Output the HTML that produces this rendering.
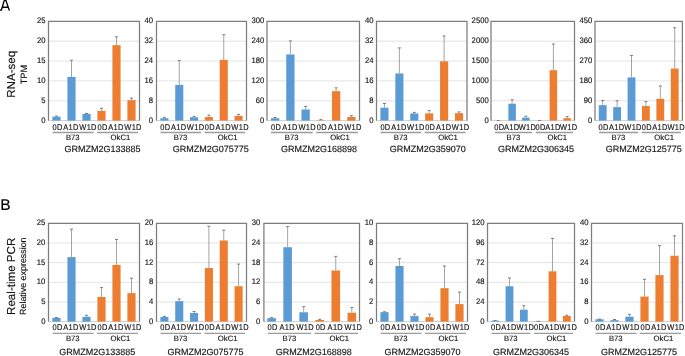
<!DOCTYPE html>
<html><head><meta charset="utf-8"><style>
html,body{margin:0;padding:0;background:#fff;}
body{width:685px;height:356px;overflow:hidden;}
svg{display:block;will-change:transform;}
text{font-family:"Liberation Sans", sans-serif;fill:#151515;stroke:#151515;stroke-width:0.15px;text-rendering:geometricPrecision;}
.t{font-size:8px;}
.x{font-size:8.2px;letter-spacing:0.35px;}
.g{font-size:7.7px;}
.n{font-size:9px;}
.L{font-size:15.6px;fill:#000;text-rendering:geometricPrecision;}
.T1{font-size:11.6px;fill:#111;}
.T2{font-size:9.2px;fill:#111;}
.T3{font-size:8.9px;fill:#111;}
</style></head><body>
<svg width="685" height="356" viewBox="0 0 685 356">
<line x1="48.5" y1="100.75" x2="139.5" y2="100.75" stroke="#e3e3e3" stroke-width="1"/>
<line x1="48.5" y1="80.9" x2="139.5" y2="80.9" stroke="#e3e3e3" stroke-width="1"/>
<line x1="48.5" y1="61.05" x2="139.5" y2="61.05" stroke="#e3e3e3" stroke-width="1"/>
<line x1="48.5" y1="41.2" x2="139.5" y2="41.2" stroke="#e3e3e3" stroke-width="1"/>
<line x1="48" y1="120.6" x2="140" y2="120.6" stroke="#d0d0d0" stroke-width="1"/>
<rect x="52.41" y="116.63" width="8.18" height="3.97" fill="#5B9BD5"/>
<line x1="56.5" y1="116.03" x2="56.5" y2="116.63" stroke="#9a9a9a" stroke-width="0.9"/>
<line x1="55" y1="116.03" x2="58" y2="116.03" stroke="#707070" stroke-width="0.9"/>
<rect x="67.41" y="76.93" width="8.18" height="43.67" fill="#5B9BD5"/>
<line x1="71.5" y1="60.26" x2="71.5" y2="76.93" stroke="#9a9a9a" stroke-width="0.9"/>
<line x1="70" y1="60.26" x2="73" y2="60.26" stroke="#707070" stroke-width="0.9"/>
<rect x="82.41" y="113.85" width="8.18" height="6.75" fill="#5B9BD5"/>
<line x1="86.5" y1="113.45" x2="86.5" y2="113.85" stroke="#9a9a9a" stroke-width="0.9"/>
<line x1="85" y1="113.45" x2="88" y2="113.45" stroke="#707070" stroke-width="0.9"/>
<rect x="97.41" y="110.87" width="8.18" height="9.73" fill="#ED7D31"/>
<line x1="101.5" y1="108.29" x2="101.5" y2="110.87" stroke="#9a9a9a" stroke-width="0.9"/>
<line x1="100" y1="108.29" x2="103" y2="108.29" stroke="#707070" stroke-width="0.9"/>
<rect x="112.41" y="45.17" width="8.18" height="75.43" fill="#ED7D31"/>
<line x1="116.5" y1="36.83" x2="116.5" y2="45.17" stroke="#9a9a9a" stroke-width="0.9"/>
<line x1="115" y1="36.83" x2="118" y2="36.83" stroke="#707070" stroke-width="0.9"/>
<rect x="127.41" y="100.15" width="8.18" height="20.45" fill="#ED7D31"/>
<line x1="131.5" y1="98.17" x2="131.5" y2="100.15" stroke="#9a9a9a" stroke-width="0.9"/>
<line x1="130" y1="98.17" x2="133" y2="98.17" stroke="#707070" stroke-width="0.9"/>
<path d="M48.5 120.6V21.35H139.5V120.6" fill="none" stroke="#7d7d7d" stroke-width="1.25"/>
<text transform="translate(45.5,122.5) scale(0.96,1)" text-anchor="end" class="t">0</text>
<text transform="translate(45.5,102.65) scale(0.96,1)" text-anchor="end" class="t">5</text>
<text transform="translate(45.5,82.8) scale(0.96,1)" text-anchor="end" class="t">10</text>
<text transform="translate(45.5,62.95) scale(0.96,1)" text-anchor="end" class="t">15</text>
<text transform="translate(45.5,43.1) scale(0.96,1)" text-anchor="end" class="t">20</text>
<text transform="translate(45.5,23.25) scale(0.96,1)" text-anchor="end" class="t">25</text>
<text transform="translate(57.5,129.9) scale(0.91,1)" text-anchor="middle" class="x">0D</text>
<text transform="translate(71.05,129.9) scale(0.91,1)" text-anchor="middle" class="x">A1D</text>
<text transform="translate(88.05,129.9) scale(0.91,1)" text-anchor="middle" class="x">W1D</text>
<text transform="translate(102.5,129.9) scale(0.91,1)" text-anchor="middle" class="x">0D</text>
<text transform="translate(116.05,129.9) scale(0.91,1)" text-anchor="middle" class="x">A1D</text>
<text transform="translate(133.05,129.9) scale(0.91,1)" text-anchor="middle" class="x">W1D</text>
<line x1="52.5" y1="132.5" x2="93.5" y2="132.5" stroke="#9c9c9c" stroke-width="1.3"/>
<line x1="97" y1="132.5" x2="138" y2="132.5" stroke="#9c9c9c" stroke-width="1.3"/>
<text transform="translate(72.8,140)" text-anchor="middle" class="g">B73</text>
<text transform="translate(120.4,140)" text-anchor="middle" class="g">OkC1</text>
<text transform="translate(102.4,152.4)" text-anchor="middle" class="n">GRMZM2G133885</text>
<line x1="156.5" y1="100.75" x2="246.5" y2="100.75" stroke="#e3e3e3" stroke-width="1"/>
<line x1="156.5" y1="80.9" x2="246.5" y2="80.9" stroke="#e3e3e3" stroke-width="1"/>
<line x1="156.5" y1="61.05" x2="246.5" y2="61.05" stroke="#e3e3e3" stroke-width="1"/>
<line x1="156.5" y1="41.2" x2="246.5" y2="41.2" stroke="#e3e3e3" stroke-width="1"/>
<line x1="156" y1="120.6" x2="247" y2="120.6" stroke="#d0d0d0" stroke-width="1"/>
<rect x="160.37" y="118.22" width="8.08" height="2.38" fill="#5B9BD5"/>
<line x1="164.42" y1="117.37" x2="164.42" y2="118.22" stroke="#9a9a9a" stroke-width="0.9"/>
<line x1="162.92" y1="117.37" x2="165.92" y2="117.37" stroke="#707070" stroke-width="0.9"/>
<rect x="175.21" y="84.87" width="8.08" height="35.73" fill="#5B9BD5"/>
<line x1="179.25" y1="60.55" x2="179.25" y2="84.87" stroke="#9a9a9a" stroke-width="0.9"/>
<line x1="177.75" y1="60.55" x2="180.75" y2="60.55" stroke="#707070" stroke-width="0.9"/>
<rect x="190.04" y="117.23" width="8.08" height="3.37" fill="#5B9BD5"/>
<line x1="194.08" y1="116.38" x2="194.08" y2="117.23" stroke="#9a9a9a" stroke-width="0.9"/>
<line x1="192.58" y1="116.38" x2="195.58" y2="116.38" stroke="#707070" stroke-width="0.9"/>
<rect x="204.87" y="117.03" width="8.08" height="3.57" fill="#ED7D31"/>
<line x1="208.92" y1="115.14" x2="208.92" y2="117.03" stroke="#9a9a9a" stroke-width="0.9"/>
<line x1="207.42" y1="115.14" x2="210.42" y2="115.14" stroke="#707070" stroke-width="0.9"/>
<rect x="219.71" y="59.81" width="8.08" height="60.79" fill="#ED7D31"/>
<line x1="223.75" y1="34.75" x2="223.75" y2="59.81" stroke="#9a9a9a" stroke-width="0.9"/>
<line x1="222.25" y1="34.75" x2="225.25" y2="34.75" stroke="#707070" stroke-width="0.9"/>
<rect x="234.54" y="115.89" width="8.08" height="4.71" fill="#ED7D31"/>
<line x1="238.58" y1="114.4" x2="238.58" y2="115.89" stroke="#9a9a9a" stroke-width="0.9"/>
<line x1="237.08" y1="114.4" x2="240.08" y2="114.4" stroke="#707070" stroke-width="0.9"/>
<path d="M156.5 120.6V21.35H246.5V120.6" fill="none" stroke="#7d7d7d" stroke-width="1.25"/>
<text transform="translate(153.1,122.5) scale(0.96,1)" text-anchor="end" class="t">0</text>
<text transform="translate(153.1,102.65) scale(0.96,1)" text-anchor="end" class="t">8</text>
<text transform="translate(153.1,82.8) scale(0.96,1)" text-anchor="end" class="t">16</text>
<text transform="translate(153.1,62.95) scale(0.96,1)" text-anchor="end" class="t">24</text>
<text transform="translate(153.1,43.1) scale(0.96,1)" text-anchor="end" class="t">32</text>
<text transform="translate(153.1,23.25) scale(0.96,1)" text-anchor="end" class="t">40</text>
<text transform="translate(165.42,129.9) scale(0.91,1)" text-anchor="middle" class="x">0D</text>
<text transform="translate(178.8,129.9) scale(0.91,1)" text-anchor="middle" class="x">A1D</text>
<text transform="translate(195.63,129.9) scale(0.91,1)" text-anchor="middle" class="x">W1D</text>
<text transform="translate(209.92,129.9) scale(0.91,1)" text-anchor="middle" class="x">0D</text>
<text transform="translate(223.3,129.9) scale(0.91,1)" text-anchor="middle" class="x">A1D</text>
<text transform="translate(240.13,129.9) scale(0.91,1)" text-anchor="middle" class="x">W1D</text>
<line x1="160.5" y1="132.5" x2="201" y2="132.5" stroke="#9c9c9c" stroke-width="1.3"/>
<line x1="204.5" y1="132.5" x2="245" y2="132.5" stroke="#9c9c9c" stroke-width="1.3"/>
<text transform="translate(180.55,140)" text-anchor="middle" class="g">B73</text>
<text transform="translate(227.65,140)" text-anchor="middle" class="g">OkC1</text>
<text transform="translate(210.8,152.4)" text-anchor="middle" class="n">GRMZM2G075775</text>
<line x1="267" y1="100.75" x2="359.5" y2="100.75" stroke="#e3e3e3" stroke-width="1"/>
<line x1="267" y1="80.9" x2="359.5" y2="80.9" stroke="#e3e3e3" stroke-width="1"/>
<line x1="267" y1="61.05" x2="359.5" y2="61.05" stroke="#e3e3e3" stroke-width="1"/>
<line x1="267" y1="41.2" x2="359.5" y2="41.2" stroke="#e3e3e3" stroke-width="1"/>
<line x1="266.5" y1="120.6" x2="360" y2="120.6" stroke="#d0d0d0" stroke-width="1"/>
<rect x="270.97" y="118.22" width="8.31" height="2.38" fill="#5B9BD5"/>
<line x1="275.12" y1="117.46" x2="275.12" y2="118.22" stroke="#9a9a9a" stroke-width="0.9"/>
<line x1="273.62" y1="117.46" x2="276.62" y2="117.46" stroke="#707070" stroke-width="0.9"/>
<rect x="286.22" y="54.43" width="8.31" height="66.17" fill="#5B9BD5"/>
<line x1="290.38" y1="40.87" x2="290.38" y2="54.43" stroke="#9a9a9a" stroke-width="0.9"/>
<line x1="288.88" y1="40.87" x2="291.88" y2="40.87" stroke="#707070" stroke-width="0.9"/>
<rect x="301.47" y="109.48" width="8.31" height="11.12" fill="#5B9BD5"/>
<line x1="305.62" y1="106.37" x2="305.62" y2="109.48" stroke="#9a9a9a" stroke-width="0.9"/>
<line x1="304.12" y1="106.37" x2="307.12" y2="106.37" stroke="#707070" stroke-width="0.9"/>
<rect x="316.72" y="120.27" width="8.31" height="0.33" fill="#ED7D31"/>
<line x1="320.88" y1="119.61" x2="320.88" y2="120.27" stroke="#9a9a9a" stroke-width="0.9"/>
<line x1="319.38" y1="119.61" x2="322.38" y2="119.61" stroke="#707070" stroke-width="0.9"/>
<rect x="331.97" y="91.16" width="8.31" height="29.44" fill="#ED7D31"/>
<line x1="336.12" y1="87.85" x2="336.12" y2="91.16" stroke="#9a9a9a" stroke-width="0.9"/>
<line x1="334.62" y1="87.85" x2="337.62" y2="87.85" stroke="#707070" stroke-width="0.9"/>
<rect x="347.22" y="117.03" width="8.31" height="3.57" fill="#ED7D31"/>
<line x1="351.38" y1="115.64" x2="351.38" y2="117.03" stroke="#9a9a9a" stroke-width="0.9"/>
<line x1="349.88" y1="115.64" x2="352.88" y2="115.64" stroke="#707070" stroke-width="0.9"/>
<path d="M267 120.6V21.35H359.5V120.6" fill="none" stroke="#7d7d7d" stroke-width="1.25"/>
<text transform="translate(264.4,122.5) scale(0.96,1)" text-anchor="end" class="t">0</text>
<text transform="translate(264.4,102.65) scale(0.96,1)" text-anchor="end" class="t">60</text>
<text transform="translate(264.4,82.8) scale(0.96,1)" text-anchor="end" class="t">120</text>
<text transform="translate(264.4,62.95) scale(0.96,1)" text-anchor="end" class="t">180</text>
<text transform="translate(264.4,43.1) scale(0.96,1)" text-anchor="end" class="t">240</text>
<text transform="translate(264.4,23.25) scale(0.96,1)" text-anchor="end" class="t">300</text>
<text transform="translate(276.12,129.9) scale(0.91,1)" text-anchor="middle" class="x">0D</text>
<text transform="translate(289.93,129.9) scale(0.91,1)" text-anchor="middle" class="x">A1D</text>
<text transform="translate(307.18,129.9) scale(0.91,1)" text-anchor="middle" class="x">W1D</text>
<text transform="translate(321.88,129.9) scale(0.91,1)" text-anchor="middle" class="x">0D</text>
<text transform="translate(335.68,129.9) scale(0.91,1)" text-anchor="middle" class="x">A1D</text>
<text transform="translate(352.93,129.9) scale(0.91,1)" text-anchor="middle" class="x">W1D</text>
<line x1="271" y1="132.5" x2="312.75" y2="132.5" stroke="#9c9c9c" stroke-width="1.3"/>
<line x1="316.25" y1="132.5" x2="358" y2="132.5" stroke="#9c9c9c" stroke-width="1.3"/>
<text transform="translate(291.68,140)" text-anchor="middle" class="g">B73</text>
<text transform="translate(340.02,140)" text-anchor="middle" class="g">OkC1</text>
<text transform="translate(319,152.4)" text-anchor="middle" class="n">GRMZM2G168898</text>
<line x1="376.5" y1="100.75" x2="467" y2="100.75" stroke="#e3e3e3" stroke-width="1"/>
<line x1="376.5" y1="80.9" x2="467" y2="80.9" stroke="#e3e3e3" stroke-width="1"/>
<line x1="376.5" y1="61.05" x2="467" y2="61.05" stroke="#e3e3e3" stroke-width="1"/>
<line x1="376.5" y1="41.2" x2="467" y2="41.2" stroke="#e3e3e3" stroke-width="1"/>
<line x1="376" y1="120.6" x2="467.5" y2="120.6" stroke="#d0d0d0" stroke-width="1"/>
<rect x="380.39" y="107.7" width="8.13" height="12.9" fill="#5B9BD5"/>
<line x1="384.46" y1="103.48" x2="384.46" y2="107.7" stroke="#9a9a9a" stroke-width="0.9"/>
<line x1="382.96" y1="103.48" x2="385.96" y2="103.48" stroke="#707070" stroke-width="0.9"/>
<rect x="395.31" y="73.46" width="8.13" height="47.14" fill="#5B9BD5"/>
<line x1="399.38" y1="47.9" x2="399.38" y2="73.46" stroke="#9a9a9a" stroke-width="0.9"/>
<line x1="397.88" y1="47.9" x2="400.88" y2="47.9" stroke="#707070" stroke-width="0.9"/>
<rect x="410.23" y="113.4" width="8.13" height="7.2" fill="#5B9BD5"/>
<line x1="414.29" y1="112.41" x2="414.29" y2="113.4" stroke="#9a9a9a" stroke-width="0.9"/>
<line x1="412.79" y1="112.41" x2="415.79" y2="112.41" stroke="#707070" stroke-width="0.9"/>
<rect x="425.14" y="113.4" width="8.13" height="7.2" fill="#ED7D31"/>
<line x1="429.21" y1="110.67" x2="429.21" y2="113.4" stroke="#9a9a9a" stroke-width="0.9"/>
<line x1="427.71" y1="110.67" x2="430.71" y2="110.67" stroke="#707070" stroke-width="0.9"/>
<rect x="440.06" y="61.3" width="8.13" height="59.3" fill="#ED7D31"/>
<line x1="444.12" y1="35.99" x2="444.12" y2="61.3" stroke="#9a9a9a" stroke-width="0.9"/>
<line x1="442.62" y1="35.99" x2="445.62" y2="35.99" stroke="#707070" stroke-width="0.9"/>
<rect x="454.98" y="113.16" width="8.13" height="7.44" fill="#ED7D31"/>
<line x1="459.04" y1="111.92" x2="459.04" y2="113.16" stroke="#9a9a9a" stroke-width="0.9"/>
<line x1="457.54" y1="111.92" x2="460.54" y2="111.92" stroke="#707070" stroke-width="0.9"/>
<path d="M376.5 120.6V21.35H467V120.6" fill="none" stroke="#7d7d7d" stroke-width="1.25"/>
<text transform="translate(373.5,122.5) scale(0.96,1)" text-anchor="end" class="t">0</text>
<text transform="translate(373.5,102.65) scale(0.96,1)" text-anchor="end" class="t">8</text>
<text transform="translate(373.5,82.8) scale(0.96,1)" text-anchor="end" class="t">16</text>
<text transform="translate(373.5,62.95) scale(0.96,1)" text-anchor="end" class="t">24</text>
<text transform="translate(373.5,43.1) scale(0.96,1)" text-anchor="end" class="t">32</text>
<text transform="translate(373.5,23.25) scale(0.96,1)" text-anchor="end" class="t">40</text>
<text transform="translate(385.46,129.9) scale(0.91,1)" text-anchor="middle" class="x">0D</text>
<text transform="translate(398.93,129.9) scale(0.91,1)" text-anchor="middle" class="x">A1D</text>
<text transform="translate(415.84,129.9) scale(0.91,1)" text-anchor="middle" class="x">W1D</text>
<text transform="translate(430.21,129.9) scale(0.91,1)" text-anchor="middle" class="x">0D</text>
<text transform="translate(443.68,129.9) scale(0.91,1)" text-anchor="middle" class="x">A1D</text>
<text transform="translate(460.59,129.9) scale(0.91,1)" text-anchor="middle" class="x">W1D</text>
<line x1="380.5" y1="132.5" x2="421.25" y2="132.5" stroke="#9c9c9c" stroke-width="1.3"/>
<line x1="424.75" y1="132.5" x2="465.5" y2="132.5" stroke="#9c9c9c" stroke-width="1.3"/>
<text transform="translate(400.68,140)" text-anchor="middle" class="g">B73</text>
<text transform="translate(448.02,140)" text-anchor="middle" class="g">OkC1</text>
<text transform="translate(427.7,152.4)" text-anchor="middle" class="n">GRMZM2G359070</text>
<line x1="491" y1="100.75" x2="574.5" y2="100.75" stroke="#e3e3e3" stroke-width="1"/>
<line x1="491" y1="80.9" x2="574.5" y2="80.9" stroke="#e3e3e3" stroke-width="1"/>
<line x1="491" y1="61.05" x2="574.5" y2="61.05" stroke="#e3e3e3" stroke-width="1"/>
<line x1="491" y1="41.2" x2="574.5" y2="41.2" stroke="#e3e3e3" stroke-width="1"/>
<line x1="490.5" y1="120.6" x2="575" y2="120.6" stroke="#d0d0d0" stroke-width="1"/>
<rect x="494.63" y="120.56" width="7.49" height="0.04" fill="#5B9BD5"/>
<line x1="498.38" y1="120.44" x2="498.38" y2="120.56" stroke="#9a9a9a" stroke-width="0.9"/>
<line x1="496.88" y1="120.44" x2="499.88" y2="120.44" stroke="#707070" stroke-width="0.9"/>
<rect x="508.38" y="103.73" width="7.49" height="16.87" fill="#5B9BD5"/>
<line x1="512.12" y1="99.76" x2="512.12" y2="103.73" stroke="#9a9a9a" stroke-width="0.9"/>
<line x1="510.62" y1="99.76" x2="513.62" y2="99.76" stroke="#707070" stroke-width="0.9"/>
<rect x="522.13" y="117.62" width="7.49" height="2.98" fill="#5B9BD5"/>
<line x1="525.88" y1="116.23" x2="525.88" y2="117.62" stroke="#9a9a9a" stroke-width="0.9"/>
<line x1="524.38" y1="116.23" x2="527.38" y2="116.23" stroke="#707070" stroke-width="0.9"/>
<rect x="535.88" y="120.56" width="7.49" height="0.04" fill="#ED7D31"/>
<line x1="539.62" y1="120.44" x2="539.62" y2="120.56" stroke="#9a9a9a" stroke-width="0.9"/>
<line x1="538.12" y1="120.44" x2="541.12" y2="120.44" stroke="#707070" stroke-width="0.9"/>
<rect x="549.63" y="70.18" width="7.49" height="50.42" fill="#ED7D31"/>
<line x1="553.38" y1="43.98" x2="553.38" y2="70.18" stroke="#9a9a9a" stroke-width="0.9"/>
<line x1="551.88" y1="43.98" x2="554.88" y2="43.98" stroke="#707070" stroke-width="0.9"/>
<rect x="563.38" y="118.22" width="7.49" height="2.38" fill="#ED7D31"/>
<line x1="567.12" y1="116.63" x2="567.12" y2="118.22" stroke="#9a9a9a" stroke-width="0.9"/>
<line x1="565.62" y1="116.63" x2="568.62" y2="116.63" stroke="#707070" stroke-width="0.9"/>
<path d="M491 120.6V21.35H574.5V120.6" fill="none" stroke="#7d7d7d" stroke-width="1.25"/>
<text transform="translate(488.7,122.5) scale(0.96,1)" text-anchor="end" class="t">0</text>
<text transform="translate(488.7,102.65) scale(0.96,1)" text-anchor="end" class="t">500</text>
<text transform="translate(488.7,82.8) scale(0.96,1)" text-anchor="end" class="t">1000</text>
<text transform="translate(488.7,62.95) scale(0.96,1)" text-anchor="end" class="t">1500</text>
<text transform="translate(488.7,43.1) scale(0.96,1)" text-anchor="end" class="t">2000</text>
<text transform="translate(488.7,23.25) scale(0.96,1)" text-anchor="end" class="t">2500</text>
<text transform="translate(499.38,129.9) scale(0.91,1)" text-anchor="middle" class="x">0D</text>
<text transform="translate(511.68,129.9) scale(0.91,1)" text-anchor="middle" class="x">A1D</text>
<text transform="translate(527.42,129.9) scale(0.91,1)" text-anchor="middle" class="x">W1D</text>
<text transform="translate(540.62,129.9) scale(0.91,1)" text-anchor="middle" class="x">0D</text>
<text transform="translate(552.92,129.9) scale(0.91,1)" text-anchor="middle" class="x">A1D</text>
<text transform="translate(568.67,129.9) scale(0.91,1)" text-anchor="middle" class="x">W1D</text>
<line x1="495" y1="132.5" x2="532.25" y2="132.5" stroke="#9c9c9c" stroke-width="1.3"/>
<line x1="535.75" y1="132.5" x2="573" y2="132.5" stroke="#9c9c9c" stroke-width="1.3"/>
<text transform="translate(513.42,140)" text-anchor="middle" class="g">B73</text>
<text transform="translate(557.27,140)" text-anchor="middle" class="g">OkC1</text>
<text transform="translate(536,152.4)" text-anchor="middle" class="n">GRMZM2G306345</text>
<line x1="595" y1="100.75" x2="682.4" y2="100.75" stroke="#e3e3e3" stroke-width="1"/>
<line x1="595" y1="80.9" x2="682.4" y2="80.9" stroke="#e3e3e3" stroke-width="1"/>
<line x1="595" y1="61.05" x2="682.4" y2="61.05" stroke="#e3e3e3" stroke-width="1"/>
<line x1="595" y1="41.2" x2="682.4" y2="41.2" stroke="#e3e3e3" stroke-width="1"/>
<line x1="594.5" y1="120.6" x2="682.9" y2="120.6" stroke="#d0d0d0" stroke-width="1"/>
<rect x="598.78" y="105.16" width="7.85" height="15.44" fill="#5B9BD5"/>
<line x1="602.7" y1="100.53" x2="602.7" y2="105.16" stroke="#9a9a9a" stroke-width="0.9"/>
<line x1="601.2" y1="100.53" x2="604.2" y2="100.53" stroke="#707070" stroke-width="0.9"/>
<rect x="613.18" y="107.15" width="7.85" height="13.45" fill="#5B9BD5"/>
<line x1="617.1" y1="100.75" x2="617.1" y2="107.15" stroke="#9a9a9a" stroke-width="0.9"/>
<line x1="615.6" y1="100.75" x2="618.6" y2="100.75" stroke="#707070" stroke-width="0.9"/>
<rect x="627.58" y="77.37" width="7.85" height="43.23" fill="#5B9BD5"/>
<line x1="631.5" y1="55.54" x2="631.5" y2="77.37" stroke="#9a9a9a" stroke-width="0.9"/>
<line x1="630" y1="55.54" x2="633" y2="55.54" stroke="#707070" stroke-width="0.9"/>
<rect x="641.98" y="106.04" width="7.85" height="14.56" fill="#ED7D31"/>
<line x1="645.9" y1="101.63" x2="645.9" y2="106.04" stroke="#9a9a9a" stroke-width="0.9"/>
<line x1="644.4" y1="101.63" x2="647.4" y2="101.63" stroke="#707070" stroke-width="0.9"/>
<rect x="656.38" y="98.76" width="7.85" height="21.84" fill="#ED7D31"/>
<line x1="660.3" y1="85.97" x2="660.3" y2="98.76" stroke="#9a9a9a" stroke-width="0.9"/>
<line x1="658.8" y1="85.97" x2="661.8" y2="85.97" stroke="#707070" stroke-width="0.9"/>
<rect x="670.78" y="68.55" width="7.85" height="52.05" fill="#ED7D31"/>
<line x1="674.7" y1="27.75" x2="674.7" y2="68.55" stroke="#9a9a9a" stroke-width="0.9"/>
<line x1="673.2" y1="27.75" x2="676.2" y2="27.75" stroke="#707070" stroke-width="0.9"/>
<path d="M595 120.6V21.35H682.4V120.6" fill="none" stroke="#7d7d7d" stroke-width="1.25"/>
<text transform="translate(592.3,122.5) scale(0.96,1)" text-anchor="end" class="t">0</text>
<text transform="translate(592.3,102.65) scale(0.96,1)" text-anchor="end" class="t">90</text>
<text transform="translate(592.3,82.8) scale(0.96,1)" text-anchor="end" class="t">180</text>
<text transform="translate(592.3,62.95) scale(0.96,1)" text-anchor="end" class="t">270</text>
<text transform="translate(592.3,43.1) scale(0.96,1)" text-anchor="end" class="t">360</text>
<text transform="translate(592.3,23.25) scale(0.96,1)" text-anchor="end" class="t">450</text>
<text transform="translate(603.7,129.9) scale(0.91,1)" text-anchor="middle" class="x">0D</text>
<text transform="translate(616.65,129.9) scale(0.91,1)" text-anchor="middle" class="x">A1D</text>
<text transform="translate(633.05,129.9) scale(0.91,1)" text-anchor="middle" class="x">W1D</text>
<text transform="translate(646.9,129.9) scale(0.91,1)" text-anchor="middle" class="x">0D</text>
<text transform="translate(659.85,129.9) scale(0.91,1)" text-anchor="middle" class="x">A1D</text>
<text transform="translate(676.25,129.9) scale(0.91,1)" text-anchor="middle" class="x">W1D</text>
<line x1="599" y1="132.5" x2="638.2" y2="132.5" stroke="#9c9c9c" stroke-width="1.3"/>
<line x1="641.7" y1="132.5" x2="680.9" y2="132.5" stroke="#9c9c9c" stroke-width="1.3"/>
<text transform="translate(618.4,140)" text-anchor="middle" class="g">B73</text>
<text transform="translate(664.2,140)" text-anchor="middle" class="g">OkC1</text>
<text transform="translate(643.8,152.4)" text-anchor="middle" class="n">GRMZM2G125775</text>
<line x1="48.5" y1="301.94" x2="139.5" y2="301.94" stroke="#e3e3e3" stroke-width="1"/>
<line x1="48.5" y1="282.28" x2="139.5" y2="282.28" stroke="#e3e3e3" stroke-width="1"/>
<line x1="48.5" y1="262.62" x2="139.5" y2="262.62" stroke="#e3e3e3" stroke-width="1"/>
<line x1="48.5" y1="242.96" x2="139.5" y2="242.96" stroke="#e3e3e3" stroke-width="1"/>
<line x1="48" y1="321.6" x2="140" y2="321.6" stroke="#d0d0d0" stroke-width="1"/>
<rect x="52.41" y="317.86" width="8.18" height="3.74" fill="#5B9BD5"/>
<line x1="56.5" y1="317.47" x2="56.5" y2="317.86" stroke="#9a9a9a" stroke-width="0.9"/>
<line x1="55" y1="317.47" x2="58" y2="317.47" stroke="#707070" stroke-width="0.9"/>
<rect x="67.41" y="257.12" width="8.18" height="64.48" fill="#5B9BD5"/>
<line x1="71.5" y1="229.2" x2="71.5" y2="257.12" stroke="#9a9a9a" stroke-width="0.9"/>
<line x1="70" y1="229.2" x2="73" y2="229.2" stroke="#707070" stroke-width="0.9"/>
<rect x="82.41" y="316.88" width="8.18" height="4.72" fill="#5B9BD5"/>
<line x1="86.5" y1="315.31" x2="86.5" y2="316.88" stroke="#9a9a9a" stroke-width="0.9"/>
<line x1="85" y1="315.31" x2="88" y2="315.31" stroke="#707070" stroke-width="0.9"/>
<rect x="97.41" y="297.03" width="8.18" height="24.57" fill="#ED7D31"/>
<line x1="101.5" y1="287.59" x2="101.5" y2="297.03" stroke="#9a9a9a" stroke-width="0.9"/>
<line x1="100" y1="287.59" x2="103" y2="287.59" stroke="#707070" stroke-width="0.9"/>
<rect x="112.41" y="264.98" width="8.18" height="56.62" fill="#ED7D31"/>
<line x1="116.5" y1="239.42" x2="116.5" y2="264.98" stroke="#9a9a9a" stroke-width="0.9"/>
<line x1="115" y1="239.42" x2="118" y2="239.42" stroke="#707070" stroke-width="0.9"/>
<rect x="127.41" y="293.09" width="8.18" height="28.51" fill="#ED7D31"/>
<line x1="131.5" y1="278.15" x2="131.5" y2="293.09" stroke="#9a9a9a" stroke-width="0.9"/>
<line x1="130" y1="278.15" x2="133" y2="278.15" stroke="#707070" stroke-width="0.9"/>
<path d="M48.5 321.6V223.3H139.5V321.6" fill="none" stroke="#7d7d7d" stroke-width="1.25"/>
<text transform="translate(45.4,323.5) scale(0.96,1)" text-anchor="end" class="t">0</text>
<text transform="translate(45.4,303.84) scale(0.96,1)" text-anchor="end" class="t">5</text>
<text transform="translate(45.4,284.18) scale(0.96,1)" text-anchor="end" class="t">10</text>
<text transform="translate(45.4,264.52) scale(0.96,1)" text-anchor="end" class="t">15</text>
<text transform="translate(45.4,244.86) scale(0.96,1)" text-anchor="end" class="t">20</text>
<text transform="translate(45.4,225.2) scale(0.96,1)" text-anchor="end" class="t">25</text>
<text transform="translate(57.5,330.2) scale(0.91,1)" text-anchor="middle" class="x">0D</text>
<text transform="translate(71.05,330.2) scale(0.91,1)" text-anchor="middle" class="x">A1D</text>
<text transform="translate(88.05,330.2) scale(0.91,1)" text-anchor="middle" class="x">W1D</text>
<text transform="translate(102.5,330.2) scale(0.91,1)" text-anchor="middle" class="x">0D</text>
<text transform="translate(116.05,330.2) scale(0.91,1)" text-anchor="middle" class="x">A1D</text>
<text transform="translate(133.05,330.2) scale(0.91,1)" text-anchor="middle" class="x">W1D</text>
<line x1="52.5" y1="333.3" x2="93.5" y2="333.3" stroke="#9c9c9c" stroke-width="1.3"/>
<line x1="97" y1="333.3" x2="138" y2="333.3" stroke="#9c9c9c" stroke-width="1.3"/>
<text transform="translate(72.8,340.8)" text-anchor="middle" class="g">B73</text>
<text transform="translate(120.4,340.8)" text-anchor="middle" class="g">OkC1</text>
<text transform="translate(97.3,355.3)" text-anchor="middle" class="n">GRMZM2G133885</text>
<line x1="156.5" y1="301.94" x2="246.5" y2="301.94" stroke="#e3e3e3" stroke-width="1"/>
<line x1="156.5" y1="282.28" x2="246.5" y2="282.28" stroke="#e3e3e3" stroke-width="1"/>
<line x1="156.5" y1="262.62" x2="246.5" y2="262.62" stroke="#e3e3e3" stroke-width="1"/>
<line x1="156.5" y1="242.96" x2="246.5" y2="242.96" stroke="#e3e3e3" stroke-width="1"/>
<line x1="156" y1="321.6" x2="247" y2="321.6" stroke="#d0d0d0" stroke-width="1"/>
<rect x="160.37" y="316.93" width="8.08" height="4.67" fill="#5B9BD5"/>
<line x1="164.42" y1="316.44" x2="164.42" y2="316.93" stroke="#9a9a9a" stroke-width="0.9"/>
<line x1="162.92" y1="316.44" x2="165.92" y2="316.44" stroke="#707070" stroke-width="0.9"/>
<rect x="175.21" y="301.2" width="8.08" height="20.4" fill="#5B9BD5"/>
<line x1="179.25" y1="298.99" x2="179.25" y2="301.2" stroke="#9a9a9a" stroke-width="0.9"/>
<line x1="177.75" y1="298.99" x2="180.75" y2="298.99" stroke="#707070" stroke-width="0.9"/>
<rect x="190.04" y="313" width="8.08" height="8.6" fill="#5B9BD5"/>
<line x1="194.08" y1="311.52" x2="194.08" y2="313" stroke="#9a9a9a" stroke-width="0.9"/>
<line x1="192.58" y1="311.52" x2="195.58" y2="311.52" stroke="#707070" stroke-width="0.9"/>
<rect x="204.87" y="268.03" width="8.08" height="53.57" fill="#ED7D31"/>
<line x1="208.92" y1="226.25" x2="208.92" y2="268.03" stroke="#9a9a9a" stroke-width="0.9"/>
<line x1="207.42" y1="226.25" x2="210.42" y2="226.25" stroke="#707070" stroke-width="0.9"/>
<rect x="219.71" y="240.5" width="8.08" height="81.1" fill="#ED7D31"/>
<line x1="223.75" y1="230.18" x2="223.75" y2="240.5" stroke="#9a9a9a" stroke-width="0.9"/>
<line x1="222.25" y1="230.18" x2="225.25" y2="230.18" stroke="#707070" stroke-width="0.9"/>
<rect x="234.54" y="286.21" width="8.08" height="35.39" fill="#ED7D31"/>
<line x1="238.58" y1="264.09" x2="238.58" y2="286.21" stroke="#9a9a9a" stroke-width="0.9"/>
<line x1="237.08" y1="264.09" x2="240.08" y2="264.09" stroke="#707070" stroke-width="0.9"/>
<path d="M156.5 321.6V223.3H246.5V321.6" fill="none" stroke="#7d7d7d" stroke-width="1.25"/>
<text transform="translate(153.3,323.5) scale(0.96,1)" text-anchor="end" class="t">0</text>
<text transform="translate(153.3,303.84) scale(0.96,1)" text-anchor="end" class="t">4</text>
<text transform="translate(153.3,284.18) scale(0.96,1)" text-anchor="end" class="t">8</text>
<text transform="translate(153.3,264.52) scale(0.96,1)" text-anchor="end" class="t">12</text>
<text transform="translate(153.3,244.86) scale(0.96,1)" text-anchor="end" class="t">16</text>
<text transform="translate(153.3,225.2) scale(0.96,1)" text-anchor="end" class="t">20</text>
<text transform="translate(165.42,330.2) scale(0.91,1)" text-anchor="middle" class="x">0D</text>
<text transform="translate(178.8,330.2) scale(0.91,1)" text-anchor="middle" class="x">A1D</text>
<text transform="translate(195.63,330.2) scale(0.91,1)" text-anchor="middle" class="x">W1D</text>
<text transform="translate(209.92,330.2) scale(0.91,1)" text-anchor="middle" class="x">0D</text>
<text transform="translate(223.3,330.2) scale(0.91,1)" text-anchor="middle" class="x">A1D</text>
<text transform="translate(240.13,330.2) scale(0.91,1)" text-anchor="middle" class="x">W1D</text>
<line x1="160.5" y1="333.3" x2="201" y2="333.3" stroke="#9c9c9c" stroke-width="1.3"/>
<line x1="204.5" y1="333.3" x2="245" y2="333.3" stroke="#9c9c9c" stroke-width="1.3"/>
<text transform="translate(180.55,340.8)" text-anchor="middle" class="g">B73</text>
<text transform="translate(227.65,340.8)" text-anchor="middle" class="g">OkC1</text>
<text transform="translate(205.5,355.3)" text-anchor="middle" class="n">GRMZM2G075775</text>
<line x1="263.9" y1="301.94" x2="359.5" y2="301.94" stroke="#e3e3e3" stroke-width="1"/>
<line x1="263.9" y1="282.28" x2="359.5" y2="282.28" stroke="#e3e3e3" stroke-width="1"/>
<line x1="263.9" y1="262.62" x2="359.5" y2="262.62" stroke="#e3e3e3" stroke-width="1"/>
<line x1="263.9" y1="242.96" x2="359.5" y2="242.96" stroke="#e3e3e3" stroke-width="1"/>
<line x1="263.4" y1="321.6" x2="360" y2="321.6" stroke="#d0d0d0" stroke-width="1"/>
<rect x="267.28" y="318.16" width="8.59" height="3.44" fill="#5B9BD5"/>
<line x1="271.57" y1="317.67" x2="271.57" y2="318.16" stroke="#9a9a9a" stroke-width="0.9"/>
<line x1="270.07" y1="317.67" x2="273.07" y2="317.67" stroke="#707070" stroke-width="0.9"/>
<rect x="283.33" y="247.22" width="8.59" height="74.38" fill="#5B9BD5"/>
<line x1="287.62" y1="226.58" x2="287.62" y2="247.22" stroke="#9a9a9a" stroke-width="0.9"/>
<line x1="286.12" y1="226.58" x2="289.12" y2="226.58" stroke="#707070" stroke-width="0.9"/>
<rect x="299.38" y="312.26" width="8.59" height="9.34" fill="#5B9BD5"/>
<line x1="303.68" y1="306.69" x2="303.68" y2="312.26" stroke="#9a9a9a" stroke-width="0.9"/>
<line x1="302.18" y1="306.69" x2="305.18" y2="306.69" stroke="#707070" stroke-width="0.9"/>
<rect x="315.43" y="319.96" width="8.59" height="1.64" fill="#ED7D31"/>
<line x1="319.72" y1="319.31" x2="319.72" y2="319.96" stroke="#9a9a9a" stroke-width="0.9"/>
<line x1="318.22" y1="319.31" x2="321.22" y2="319.31" stroke="#707070" stroke-width="0.9"/>
<rect x="331.48" y="270.48" width="8.59" height="51.12" fill="#ED7D31"/>
<line x1="335.77" y1="256.39" x2="335.77" y2="270.48" stroke="#9a9a9a" stroke-width="0.9"/>
<line x1="334.27" y1="256.39" x2="337.27" y2="256.39" stroke="#707070" stroke-width="0.9"/>
<rect x="347.53" y="312.75" width="8.59" height="8.85" fill="#ED7D31"/>
<line x1="351.82" y1="307.51" x2="351.82" y2="312.75" stroke="#9a9a9a" stroke-width="0.9"/>
<line x1="350.32" y1="307.51" x2="353.32" y2="307.51" stroke="#707070" stroke-width="0.9"/>
<path d="M263.9 321.6V223.3H359.5V321.6" fill="none" stroke="#7d7d7d" stroke-width="1.25"/>
<text transform="translate(260.3,323.5) scale(0.96,1)" text-anchor="end" class="t">0</text>
<text transform="translate(260.3,303.84) scale(0.96,1)" text-anchor="end" class="t">6</text>
<text transform="translate(260.3,284.18) scale(0.96,1)" text-anchor="end" class="t">12</text>
<text transform="translate(260.3,264.52) scale(0.96,1)" text-anchor="end" class="t">18</text>
<text transform="translate(260.3,244.86) scale(0.96,1)" text-anchor="end" class="t">24</text>
<text transform="translate(260.3,225.2) scale(0.96,1)" text-anchor="end" class="t">30</text>
<text transform="translate(272.57,330.2) scale(0.91,1)" text-anchor="middle" class="x">0D</text>
<text transform="translate(287.18,330.2) scale(0.91,1)" text-anchor="middle" class="x">A1D</text>
<text transform="translate(305.23,330.2) scale(0.91,1)" text-anchor="middle" class="x">W1D</text>
<text transform="translate(320.72,330.2) scale(0.91,1)" text-anchor="middle" class="x">0D</text>
<text transform="translate(335.32,330.2) scale(0.91,1)" text-anchor="middle" class="x">A1D</text>
<text transform="translate(353.38,330.2) scale(0.91,1)" text-anchor="middle" class="x">W1D</text>
<line x1="267.9" y1="333.3" x2="311.2" y2="333.3" stroke="#9c9c9c" stroke-width="1.3"/>
<line x1="314.7" y1="333.3" x2="358" y2="333.3" stroke="#9c9c9c" stroke-width="1.3"/>
<text transform="translate(289.35,340.8)" text-anchor="middle" class="g">B73</text>
<text transform="translate(339.25,340.8)" text-anchor="middle" class="g">OkC1</text>
<text transform="translate(313.8,355.3)" text-anchor="middle" class="n">GRMZM2G168898</text>
<line x1="376.5" y1="301.94" x2="467.5" y2="301.94" stroke="#e3e3e3" stroke-width="1"/>
<line x1="376.5" y1="282.28" x2="467.5" y2="282.28" stroke="#e3e3e3" stroke-width="1"/>
<line x1="376.5" y1="262.62" x2="467.5" y2="262.62" stroke="#e3e3e3" stroke-width="1"/>
<line x1="376.5" y1="242.96" x2="467.5" y2="242.96" stroke="#e3e3e3" stroke-width="1"/>
<line x1="376" y1="321.6" x2="468" y2="321.6" stroke="#d0d0d0" stroke-width="1"/>
<rect x="380.41" y="312.16" width="8.18" height="9.44" fill="#5B9BD5"/>
<line x1="384.5" y1="311.77" x2="384.5" y2="312.16" stroke="#9a9a9a" stroke-width="0.9"/>
<line x1="383" y1="311.77" x2="386" y2="311.77" stroke="#707070" stroke-width="0.9"/>
<rect x="395.41" y="265.96" width="8.18" height="55.64" fill="#5B9BD5"/>
<line x1="399.5" y1="258.69" x2="399.5" y2="265.96" stroke="#9a9a9a" stroke-width="0.9"/>
<line x1="398" y1="258.69" x2="401" y2="258.69" stroke="#707070" stroke-width="0.9"/>
<rect x="410.41" y="316.1" width="8.18" height="5.5" fill="#5B9BD5"/>
<line x1="414.5" y1="314.13" x2="414.5" y2="316.1" stroke="#9a9a9a" stroke-width="0.9"/>
<line x1="413" y1="314.13" x2="416" y2="314.13" stroke="#707070" stroke-width="0.9"/>
<rect x="425.41" y="317.18" width="8.18" height="4.42" fill="#ED7D31"/>
<line x1="429.5" y1="314.13" x2="429.5" y2="317.18" stroke="#9a9a9a" stroke-width="0.9"/>
<line x1="428" y1="314.13" x2="431" y2="314.13" stroke="#707070" stroke-width="0.9"/>
<rect x="440.41" y="288.18" width="8.18" height="33.42" fill="#ED7D31"/>
<line x1="444.5" y1="265.96" x2="444.5" y2="288.18" stroke="#9a9a9a" stroke-width="0.9"/>
<line x1="443" y1="265.96" x2="446" y2="265.96" stroke="#707070" stroke-width="0.9"/>
<rect x="455.41" y="304.1" width="8.18" height="17.5" fill="#ED7D31"/>
<line x1="459.5" y1="292.11" x2="459.5" y2="304.1" stroke="#9a9a9a" stroke-width="0.9"/>
<line x1="458" y1="292.11" x2="461" y2="292.11" stroke="#707070" stroke-width="0.9"/>
<path d="M376.5 321.6V223.3H467.5V321.6" fill="none" stroke="#7d7d7d" stroke-width="1.25"/>
<text transform="translate(373.4,323.5) scale(0.96,1)" text-anchor="end" class="t">0</text>
<text transform="translate(373.4,303.84) scale(0.96,1)" text-anchor="end" class="t">2</text>
<text transform="translate(373.4,284.18) scale(0.96,1)" text-anchor="end" class="t">4</text>
<text transform="translate(373.4,264.52) scale(0.96,1)" text-anchor="end" class="t">6</text>
<text transform="translate(373.4,244.86) scale(0.96,1)" text-anchor="end" class="t">8</text>
<text transform="translate(373.4,225.2) scale(0.96,1)" text-anchor="end" class="t">10</text>
<text transform="translate(385.5,330.2) scale(0.91,1)" text-anchor="middle" class="x">0D</text>
<text transform="translate(399.05,330.2) scale(0.91,1)" text-anchor="middle" class="x">A1D</text>
<text transform="translate(416.05,330.2) scale(0.91,1)" text-anchor="middle" class="x">W1D</text>
<text transform="translate(430.5,330.2) scale(0.91,1)" text-anchor="middle" class="x">0D</text>
<text transform="translate(444.05,330.2) scale(0.91,1)" text-anchor="middle" class="x">A1D</text>
<text transform="translate(461.05,330.2) scale(0.91,1)" text-anchor="middle" class="x">W1D</text>
<line x1="380.5" y1="333.3" x2="421.5" y2="333.3" stroke="#9c9c9c" stroke-width="1.3"/>
<line x1="425" y1="333.3" x2="466" y2="333.3" stroke="#9c9c9c" stroke-width="1.3"/>
<text transform="translate(400.8,340.8)" text-anchor="middle" class="g">B73</text>
<text transform="translate(448.4,340.8)" text-anchor="middle" class="g">OkC1</text>
<text transform="translate(422.4,355.3)" text-anchor="middle" class="n">GRMZM2G359070</text>
<line x1="487.5" y1="301.94" x2="574.5" y2="301.94" stroke="#e3e3e3" stroke-width="1"/>
<line x1="487.5" y1="282.28" x2="574.5" y2="282.28" stroke="#e3e3e3" stroke-width="1"/>
<line x1="487.5" y1="262.62" x2="574.5" y2="262.62" stroke="#e3e3e3" stroke-width="1"/>
<line x1="487.5" y1="242.96" x2="574.5" y2="242.96" stroke="#e3e3e3" stroke-width="1"/>
<line x1="487" y1="321.6" x2="575" y2="321.6" stroke="#d0d0d0" stroke-width="1"/>
<rect x="491.26" y="320.62" width="7.81" height="0.98" fill="#5B9BD5"/>
<line x1="495.17" y1="320.45" x2="495.17" y2="320.62" stroke="#9a9a9a" stroke-width="0.9"/>
<line x1="493.67" y1="320.45" x2="496.67" y2="320.45" stroke="#707070" stroke-width="0.9"/>
<rect x="505.59" y="286.21" width="7.81" height="35.39" fill="#5B9BD5"/>
<line x1="509.5" y1="277.94" x2="509.5" y2="286.21" stroke="#9a9a9a" stroke-width="0.9"/>
<line x1="508" y1="277.94" x2="511" y2="277.94" stroke="#707070" stroke-width="0.9"/>
<rect x="519.93" y="309.72" width="7.81" height="11.88" fill="#5B9BD5"/>
<line x1="523.83" y1="305.71" x2="523.83" y2="309.72" stroke="#9a9a9a" stroke-width="0.9"/>
<line x1="522.33" y1="305.71" x2="525.33" y2="305.71" stroke="#707070" stroke-width="0.9"/>
<rect x="534.26" y="321.35" width="7.81" height="0.25" fill="#ED7D31"/>
<line x1="538.17" y1="321.27" x2="538.17" y2="321.35" stroke="#9a9a9a" stroke-width="0.9"/>
<line x1="536.67" y1="321.27" x2="539.67" y2="321.27" stroke="#707070" stroke-width="0.9"/>
<rect x="548.59" y="271.3" width="7.81" height="50.3" fill="#ED7D31"/>
<line x1="552.5" y1="238.45" x2="552.5" y2="271.3" stroke="#9a9a9a" stroke-width="0.9"/>
<line x1="551" y1="238.45" x2="554" y2="238.45" stroke="#707070" stroke-width="0.9"/>
<rect x="562.93" y="315.95" width="7.81" height="5.65" fill="#ED7D31"/>
<line x1="566.83" y1="315.21" x2="566.83" y2="315.95" stroke="#9a9a9a" stroke-width="0.9"/>
<line x1="565.33" y1="315.21" x2="568.33" y2="315.21" stroke="#707070" stroke-width="0.9"/>
<path d="M487.5 321.6V223.3H574.5V321.6" fill="none" stroke="#7d7d7d" stroke-width="1.25"/>
<text transform="translate(484.6,323.5) scale(0.96,1)" text-anchor="end" class="t">0</text>
<text transform="translate(484.6,303.84) scale(0.96,1)" text-anchor="end" class="t">24</text>
<text transform="translate(484.6,284.18) scale(0.96,1)" text-anchor="end" class="t">48</text>
<text transform="translate(484.6,264.52) scale(0.96,1)" text-anchor="end" class="t">72</text>
<text transform="translate(484.6,244.86) scale(0.96,1)" text-anchor="end" class="t">96</text>
<text transform="translate(484.6,225.2) scale(0.96,1)" text-anchor="end" class="t">120</text>
<text transform="translate(496.17,330.2) scale(0.91,1)" text-anchor="middle" class="x">0D</text>
<text transform="translate(509.05,330.2) scale(0.91,1)" text-anchor="middle" class="x">A1D</text>
<text transform="translate(525.38,330.2) scale(0.91,1)" text-anchor="middle" class="x">W1D</text>
<text transform="translate(539.17,330.2) scale(0.91,1)" text-anchor="middle" class="x">0D</text>
<text transform="translate(552.05,330.2) scale(0.91,1)" text-anchor="middle" class="x">A1D</text>
<text transform="translate(568.38,330.2) scale(0.91,1)" text-anchor="middle" class="x">W1D</text>
<line x1="491.5" y1="333.3" x2="530.5" y2="333.3" stroke="#9c9c9c" stroke-width="1.3"/>
<line x1="534" y1="333.3" x2="573" y2="333.3" stroke="#9c9c9c" stroke-width="1.3"/>
<text transform="translate(510.8,340.8)" text-anchor="middle" class="g">B73</text>
<text transform="translate(556.4,340.8)" text-anchor="middle" class="g">OkC1</text>
<text transform="translate(531,355.3)" text-anchor="middle" class="n">GRMZM2G306345</text>
<line x1="591.5" y1="301.94" x2="682.5" y2="301.94" stroke="#e3e3e3" stroke-width="1"/>
<line x1="591.5" y1="282.28" x2="682.5" y2="282.28" stroke="#e3e3e3" stroke-width="1"/>
<line x1="591.5" y1="262.62" x2="682.5" y2="262.62" stroke="#e3e3e3" stroke-width="1"/>
<line x1="591.5" y1="242.96" x2="682.5" y2="242.96" stroke="#e3e3e3" stroke-width="1"/>
<line x1="591" y1="321.6" x2="683" y2="321.6" stroke="#d0d0d0" stroke-width="1"/>
<rect x="595.41" y="319.27" width="8.18" height="2.33" fill="#5B9BD5"/>
<line x1="599.5" y1="319.02" x2="599.5" y2="319.27" stroke="#9a9a9a" stroke-width="0.9"/>
<line x1="598" y1="319.02" x2="601" y2="319.02" stroke="#707070" stroke-width="0.9"/>
<rect x="610.41" y="320.13" width="8.18" height="1.47" fill="#5B9BD5"/>
<line x1="614.5" y1="319.51" x2="614.5" y2="320.13" stroke="#9a9a9a" stroke-width="0.9"/>
<line x1="613" y1="319.51" x2="616" y2="319.51" stroke="#707070" stroke-width="0.9"/>
<rect x="625.41" y="316.69" width="8.18" height="4.92" fill="#5B9BD5"/>
<line x1="629.5" y1="314.35" x2="629.5" y2="316.69" stroke="#9a9a9a" stroke-width="0.9"/>
<line x1="628" y1="314.35" x2="631" y2="314.35" stroke="#707070" stroke-width="0.9"/>
<rect x="640.41" y="296.53" width="8.18" height="25.07" fill="#ED7D31"/>
<line x1="644.5" y1="279.33" x2="644.5" y2="296.53" stroke="#9a9a9a" stroke-width="0.9"/>
<line x1="643" y1="279.33" x2="646" y2="279.33" stroke="#707070" stroke-width="0.9"/>
<rect x="655.41" y="275.15" width="8.18" height="46.45" fill="#ED7D31"/>
<line x1="659.5" y1="245.66" x2="659.5" y2="275.15" stroke="#9a9a9a" stroke-width="0.9"/>
<line x1="658" y1="245.66" x2="661" y2="245.66" stroke="#707070" stroke-width="0.9"/>
<rect x="670.41" y="255.74" width="8.18" height="65.86" fill="#ED7D31"/>
<line x1="674.5" y1="235.83" x2="674.5" y2="255.74" stroke="#9a9a9a" stroke-width="0.9"/>
<line x1="673" y1="235.83" x2="676" y2="235.83" stroke="#707070" stroke-width="0.9"/>
<path d="M591.5 321.6V223.3H682.5V321.6" fill="none" stroke="#7d7d7d" stroke-width="1.25"/>
<text transform="translate(588.6,323.5) scale(0.96,1)" text-anchor="end" class="t">0</text>
<text transform="translate(588.6,303.84) scale(0.96,1)" text-anchor="end" class="t">8</text>
<text transform="translate(588.6,284.18) scale(0.96,1)" text-anchor="end" class="t">16</text>
<text transform="translate(588.6,264.52) scale(0.96,1)" text-anchor="end" class="t">24</text>
<text transform="translate(588.6,244.86) scale(0.96,1)" text-anchor="end" class="t">32</text>
<text transform="translate(588.6,225.2) scale(0.96,1)" text-anchor="end" class="t">40</text>
<text transform="translate(600.5,330.2) scale(0.91,1)" text-anchor="middle" class="x">0D</text>
<text transform="translate(614.05,330.2) scale(0.91,1)" text-anchor="middle" class="x">A1D</text>
<text transform="translate(631.05,330.2) scale(0.91,1)" text-anchor="middle" class="x">W1D</text>
<text transform="translate(645.5,330.2) scale(0.91,1)" text-anchor="middle" class="x">0D</text>
<text transform="translate(659.05,330.2) scale(0.91,1)" text-anchor="middle" class="x">A1D</text>
<text transform="translate(676.05,330.2) scale(0.91,1)" text-anchor="middle" class="x">W1D</text>
<line x1="595.5" y1="333.3" x2="636.5" y2="333.3" stroke="#9c9c9c" stroke-width="1.3"/>
<line x1="640" y1="333.3" x2="681" y2="333.3" stroke="#9c9c9c" stroke-width="1.3"/>
<text transform="translate(615.8,340.8)" text-anchor="middle" class="g">B73</text>
<text transform="translate(663.4,340.8)" text-anchor="middle" class="g">OkC1</text>
<text transform="translate(639,355.3)" text-anchor="middle" class="n">GRMZM2G125775</text>
<path d="M4.6 -0.6L1.2 10.6M5.5 -0.6L9.4 10.6M2.3 7.25H8.5M0 10.1H1.6" stroke="#000" stroke-width="1.35" fill="none"/>
<text transform="translate(0.25,209.6)" class="L">B</text>
<text transform="translate(15.3,74.3) rotate(-90)" text-anchor="middle" class="T1">RNA-seq</text>
<text transform="translate(27,74.6) rotate(-90)" text-anchor="middle" class="T2">TPM</text>
<text transform="translate(15.3,276.3) rotate(-90)" text-anchor="middle" class="T1">Real-time PCR</text>
<text transform="translate(26.4,276.2) rotate(-90)" text-anchor="middle" class="T3">Relative expression</text>
</svg>
</body></html>
